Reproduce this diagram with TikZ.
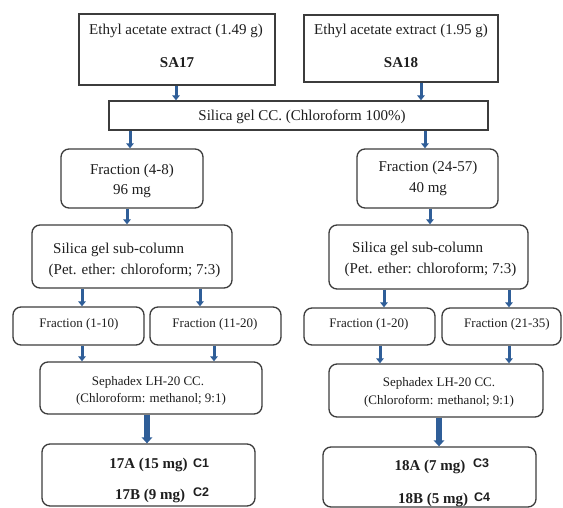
\documentclass[tikz,border=0pt]{standalone}
\usepackage{fontspec}
\setmainfont{Liberation Serif}
\newfontfamily\csans{Liberation Sans}
\usetikzlibrary{arrows.meta,calc}
\definecolor{arrowblue}{HTML}{2F5E98}
\definecolor{boxgray}{HTML}{3C3C3C}
\definecolor{txt}{HTML}{1E1E1E}
\begin{document}
\begin{tikzpicture}[x=1pt,y=-1pt,
 box/.style={draw=boxgray,line width=1.3pt,inner sep=0pt,fill=white},
 rbox/.style={box,rounded corners=8pt},
 lbl/.style={inner sep=0pt,anchor=base,text=txt,font=\fontsize{15}{18}\selectfont},
 slbl/.style={inner sep=0pt,anchor=base,text=txt,font=\fontsize{13}{15}\selectfont},
 blbl/.style={inner sep=0pt,anchor=base,text=txt,font=\fontsize{15}{18}\selectfont\bfseries},
 clbl/.style={inner sep=0pt,anchor=base,text=txt,font=\fontsize{12.5}{14}\selectfont\csans\bfseries},
 arr/.style={draw=arrowblue,line width=3pt,-{Triangle[width=7.5pt,length=5pt]}},
 thickarr/.style={draw=arrowblue,line width=6pt,-{Triangle[width=10.5pt,length=6pt]}},
]
\useasboundingbox (0,0) rectangle (563,508);

% top boxes
\node[box,minimum width=196,minimum height=71] (SA17) at (177,49.5) {};
\node[lbl] (t17a) at (176,35) {Ethyl acetate extract (1.49 g)};
\node[blbl] (t17b) at (177,68) {SA17};
\node[box,minimum width=194,minimum height=67] (SA18) at (401,48.5) {};
\node[lbl] (t18a) at (401,35) {Ethyl acetate extract (1.95 g)};
\node[blbl] (t18b) at (401,68) {SA18};

% silica CC
\node[box,minimum width=379,minimum height=29] (CC) at (298.5,115.5) {};
\node[lbl] (tcc) at (302,120.5) {Silica gel CC. (Chloroform 100\%)};

% fractions
\node[rbox,minimum width=142,minimum height=59] (F48) at (132,178.5) {};
\node[lbl] (tf48a) at (132,175) {Fraction (4-8)};
\node[lbl] (tf48b) at (132,195) {96 mg};
\node[rbox,minimum width=141,minimum height=59] (F2457) at (427.5,178.5) {};
\node[lbl] (tf2a) at (428,172) {Fraction (24-57)};
\node[lbl] (tf2b) at (428,193) {40 mg};

% sub-columns
\node[rbox,minimum width=200,minimum height=63] (SubL) at (132,256.5) {};
\node[lbl,anchor=base west] (tsla) at (53,254) {Silica gel sub-column};
\node[lbl] (tslb) at (134.5,275) {(Pet. ether: chloroform; 7:3)};
\node[rbox,minimum width=199,minimum height=64] (SubR) at (428.5,257) {};
\node[lbl,anchor=base west] (tsra) at (352,253) {Silica gel sub-column};
\node[lbl] (tsrb) at (430.5,273) {(Pet. ether: chloroform; 7:3)};

% small fractions
\node[rbox,minimum width=131,minimum height=38] (F110) at (78.5,326) {};
\node[slbl] (tf110) at (79,327) {Fraction (1-10)};
\node[rbox,minimum width=131,minimum height=38] (F1120) at (215.5,326) {};
\node[slbl] (tf1120) at (215,327) {Fraction (11-20)};
\node[rbox,minimum width=131,minimum height=37] (F120) at (369.5,326.5) {};
\node[slbl] (tf120) at (369,327) {Fraction (1-20)};
\node[rbox,minimum width=119,minimum height=37] (F2135) at (501.5,326.5) {};
\node[slbl] (tf2135) at (507,327) {Fraction (21-35)};

% sephadex
\node[rbox,minimum width=222,minimum height=52] (SephL) at (151,388) {};
\node[slbl] (tsel1) at (148,385) {Sephadex LH-20 CC.};
\node[slbl] (tsel2) at (151,402) {(Chloroform: methanol; 9:1)};
\node[rbox,minimum width=214,minimum height=53] (SephR) at (436,390.5) {};
\node[slbl] (tser1) at (439,386) {Sephadex LH-20 CC.};
\node[slbl] (tser2) at (439,404) {(Chloroform: methanol; 9:1)};

% bottom boxes
\node[rbox,minimum width=213,minimum height=62] (BotL) at (148.5,475) {};
\node[blbl] (b17a) at (148.5,468) {17A (15 mg)};
\node[clbl] (c1) at (201,467) {C1};
\node[blbl] (b17b) at (150,499) {17B (9 mg)};
\node[clbl] (c2) at (201,496) {C2};
\node[rbox,minimum width=213,minimum height=60] (BotR) at (429.5,477) {};
\node[blbl] (b18a) at (430,470) {18A (7 mg)};
\node[clbl] (c3) at (481,467) {C3};
\node[blbl] (b18b) at (433,503) {18B (5 mg)};
\node[clbl] (c4) at (482,501) {C4};

% arrows
\draw[arr] ([xshift=-1]SA17.south) -- ([xshift=-1]SA17.south |- CC.north);
\draw[arr] ([xshift=20]SA18.south) -- ([xshift=20]SA18.south |- CC.north);
\draw[arr] ([xshift=-2]F48.north |- CC.south) -- ([xshift=-2]F48.north);
\draw[arr] ([xshift=-2.5]F2457.north |- CC.south) -- ([xshift=-2.5]F2457.north);
\draw[arr] ([xshift=-5]F48.south) -- ([xshift=-5]F48.south |- SubL.north);
\draw[arr] ([xshift=2.5]F2457.south) -- ([xshift=2.5]F2457.south |- SubR.north);
\draw[arr] ([xshift=3.5]F110.north |- SubL.south) -- ([xshift=3.5]F110.north);
\draw[arr] ([xshift=-15.5]F1120.north |- SubL.south) -- ([xshift=-15.5]F1120.north);
\draw[arr] ([xshift=14.5]F120.north |- SubR.south) -- ([xshift=14.5]F120.north);
\draw[arr] ([xshift=7.5]F2135.north |- SubR.south) -- ([xshift=7.5]F2135.north);
\draw[arr] ([xshift=3.5]F110.south) -- ([xshift=3.5]F110.south |- SephL.north);
\draw[arr] ([xshift=-1.5]F1120.south) -- ([xshift=-1.5]F1120.south |- SephL.north);
\draw[arr] ([xshift=10.5]F120.south) -- ([xshift=10.5]F120.south |- SephR.north);
\draw[arr] ([xshift=7.5]F2135.south) -- ([xshift=7.5]F2135.south |- SephR.north);
\draw[thickarr] ([xshift=-4]SephL.south) -- ([xshift=-4]SephL.south |- BotL.north);
\draw[thickarr] ([xshift=3]SephR.south) -- ([xshift=3]SephR.south |- BotR.north);
\end{tikzpicture}
\end{document}
